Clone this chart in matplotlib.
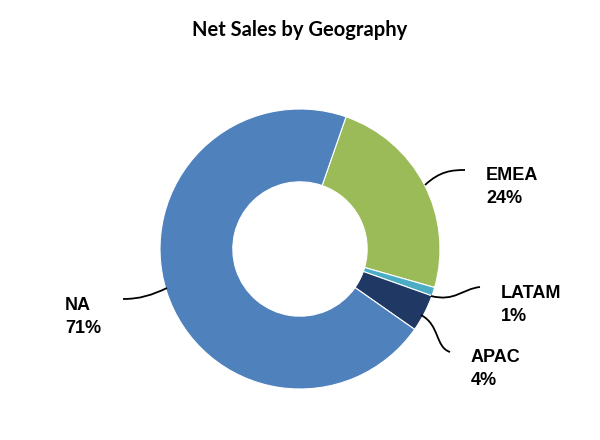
import matplotlib
matplotlib.use("Agg")
import matplotlib.pyplot as plt
from matplotlib.path import Path
from matplotlib.patches import PathPatch

categories = ["EMEA", "LATAM", "APAC", "NA"]
values = [24.1, 1.0, 4.3, 70.6]
pct_labels = ["24%", "1%", "4%", "71%"]
colors = ["#9BBB59", "#4BACC6", "#1F3864", "#4F81BD"]

W, H = 600, 440
fig = plt.figure(figsize=(6, 4.4), dpi=100)
ax = fig.add_axes([0, 0, 1, 1])

def Y(py):
    return H - py

ax.pie(values, colors=colors, startangle=70.8, counterclock=False,
       center=(300, Y(249)), radius=140, frame=True,
       wedgeprops=dict(width=140 * 0.52, edgecolor="white", linewidth=0.8))
ax.set_xlim(0, W)
ax.set_ylim(0, H)
ax.axis("off")

ax.text(300, Y(30), "Net Sales by Geography", ha="center", va="center",
        fontsize=14.5, fontweight="bold", family=["Lato", "DejaVu Sans"])

label_pos = {"EMEA": (486, 180), "LATAM": (501, 298), "APAC": (471, 362), "NA": (65, 310)}
for cat, pct in zip(categories, pct_labels):
    x, yb = label_pos[cat]
    ax.text(x, Y(yb), cat, ha="left", va="baseline", fontsize=13,
            fontweight="bold", family=["Liberation Sans", "DejaVu Sans"])
    ax.text(x, Y(yb + 23), pct, ha="left", va="baseline", fontsize=13,
            fontweight="bold", family=["Liberation Sans", "DejaVu Sans"])

leaders = [
    [(425, 185), (440, 171), (452, 170), (465, 170)],
    [(431, 296), (455, 302), (462, 289), (480, 287)],
    [(421, 315), (440, 325), (435, 347), (450, 352)],
    [(123, 299), (140, 299), (152, 295), (167, 288)],
]
for pts in leaders:
    verts = [(x, Y(y)) for x, y in pts]
    path = Path(verts, [Path.MOVETO, Path.CURVE4, Path.CURVE4, Path.CURVE4])
    ax.add_patch(PathPatch(path, facecolor="none", edgecolor="black", linewidth=1.3))

fig.savefig("out.png", dpi=100)
